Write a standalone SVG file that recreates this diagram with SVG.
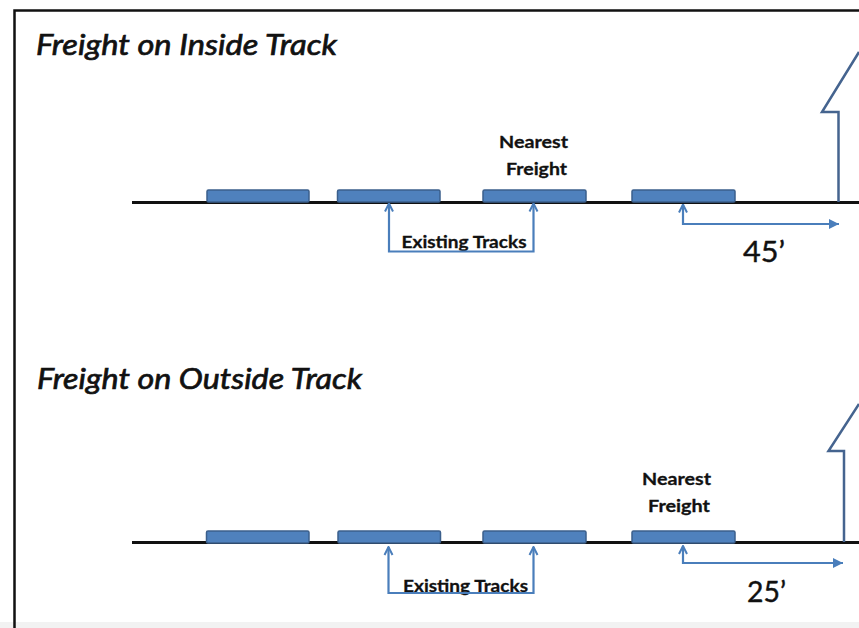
<svg xmlns="http://www.w3.org/2000/svg" width="859" height="628" viewBox="0 0 859 628">
<style>
.title{font-family:Lato,"Open Sans","Liberation Sans",sans-serif;font-style:italic;font-size:29px;fill:#111;stroke:#111;stroke-width:0.7}
.lbl{font-family:Lato,"Open Sans","Liberation Sans",sans-serif;font-weight:bold;font-size:17.5px;fill:#111;stroke:#111;stroke-width:0.3}
.dim{font-family:Lato,"Open Sans","Liberation Sans",sans-serif;font-size:28px;fill:#111;stroke:#111;stroke-width:0.4}
.track{stroke:#111;stroke-width:3;fill:none}
.car{fill:#4f81bd;stroke:#3b5f8c;stroke-width:1.5}
.conn{stroke:#4a7ebb;stroke-width:2.2;fill:none}
.house{stroke:#45648f;stroke-width:2.5;fill:none}
</style>
<defs>
<marker id="open" viewBox="0 0 10 10" refX="9" refY="5" markerWidth="10" markerHeight="11" markerUnits="userSpaceOnUse" orient="auto-start-reverse">
<path d="M1,1 L9,5 L1,9" fill="none" stroke="#4a7ebb" stroke-width="2"/>
</marker>
<marker id="solid" viewBox="0 0 10 10" refX="10" refY="5" markerWidth="14" markerHeight="10" markerUnits="userSpaceOnUse" orient="auto">
<path d="M0,0 L10,5 L0,10 z" fill="#4a7ebb"/>
</marker>
</defs>
<rect width="859" height="628" fill="#fff"/>
<rect x="0" y="622" width="859" height="6" fill="#f2f2f2"/>
<g id="frame">
<path d="M859,10.5 H14.5 V628" fill="none" stroke="#111" stroke-width="2.5"/>
</g>

<g id="section-inside">
<text class="title" x="36" y="55" textLength="301" lengthAdjust="spacingAndGlyphs">Freight on Inside Track</text>
<line class="track" x1="132" y1="202.5" x2="859" y2="202.5"/>
</g>
<g id="car-inside-1"><rect class="car" x="207" y="190" width="102" height="12" rx="1.5"/></g>
<g id="car-inside-2"><rect class="car" x="337.5" y="190" width="102.5" height="12" rx="1.5"/></g>
<g id="car-inside-3"><rect class="car" x="483" y="190" width="103" height="12" rx="1.5"/></g>
<g id="car-inside-4"><rect class="car" x="632" y="190" width="103" height="12" rx="1.5"/></g>
<g id="label-nearest-inside">
<text class="lbl" x="499" y="148" textLength="69" lengthAdjust="spacingAndGlyphs">Nearest</text>
<text class="lbl" x="506" y="175" textLength="61" lengthAdjust="spacingAndGlyphs">Freight</text>
</g>
<g id="label-existing-inside">
<text class="lbl" x="401.5" y="248" textLength="125" lengthAdjust="spacingAndGlyphs">Existing Tracks</text>
</g>
<g id="label-45">
<text class="dim" x="743" y="262" textLength="42" lengthAdjust="spacingAndGlyphs">45’</text>
</g>
<g id="building-inside">
<path class="house" d="M838.5,202 V112 H822 L859,52"/>
</g>

<g id="section-outside">
<text class="title" x="37" y="389" textLength="325" lengthAdjust="spacingAndGlyphs">Freight on Outside Track</text>
<line class="track" x1="132" y1="542.5" x2="859" y2="542.5"/>
</g>
<g id="car-outside-1"><rect class="car" x="206.5" y="531" width="102.5" height="12" rx="1.5"/></g>
<g id="car-outside-2"><rect class="car" x="338" y="531" width="102.5" height="12" rx="1.5"/></g>
<g id="car-outside-3"><rect class="car" x="483" y="531" width="103" height="12" rx="1.5"/></g>
<g id="car-outside-4"><rect class="car" x="632" y="531" width="103" height="12" rx="1.5"/></g>
<g id="label-nearest-outside">
<text class="lbl" x="642" y="485" textLength="69" lengthAdjust="spacingAndGlyphs">Nearest</text>
<text class="lbl" x="648" y="512" textLength="62" lengthAdjust="spacingAndGlyphs">Freight</text>
</g>
<g id="label-existing-outside">
<text class="lbl" x="403" y="592" textLength="125" lengthAdjust="spacingAndGlyphs">Existing Tracks</text>
</g>
<g id="label-25">
<text class="dim" x="747" y="602" textLength="39" lengthAdjust="spacingAndGlyphs">25’</text>
</g>
<g id="building-outside">
<path class="house" d="M844,542 V451 H828.5 L859,404"/>
</g>

<g id="connectors">
<path class="conn" d="M389,203.5 V251.5 H533.5 V203.5" marker-start="url(#open)" marker-end="url(#open)"/>
<path class="conn" d="M683,204.5 V224 H839" marker-start="url(#open)" marker-end="url(#solid)"/>
<path class="conn" d="M388.5,547 V593 H533.5 V547" marker-start="url(#open)" marker-end="url(#open)"/>
<path class="conn" d="M683,546 V563 H843" marker-start="url(#open)" marker-end="url(#solid)"/>
</g>
</svg>
